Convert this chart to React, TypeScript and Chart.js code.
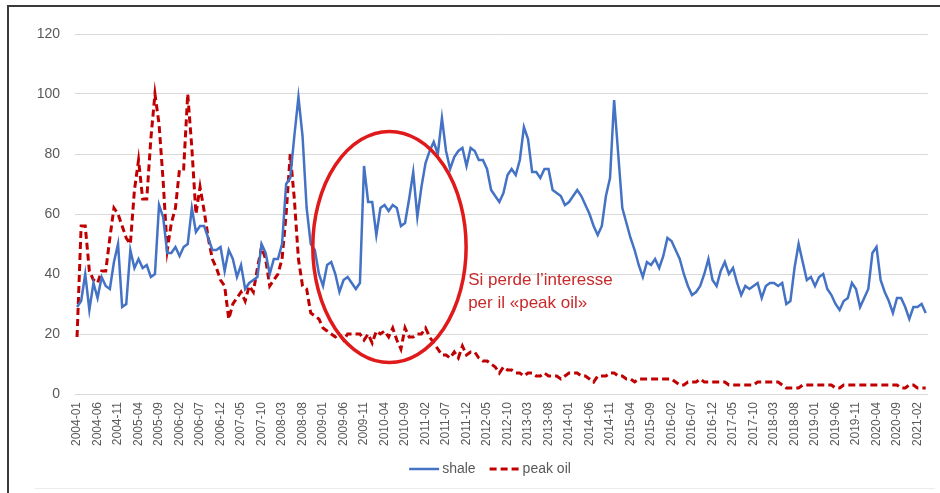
import React, { useEffect, useRef } from 'react';
import { Chart, registerables } from 'chart.js';

Chart.register(...registerables);

const START_YEAR = 2004;
const MONTH_COUNT = 208;
const months: string[] = [];
for (let i = 0; i < MONTH_COUNT; i++) {
  const yr = START_YEAR + Math.floor(i / 12);
  const mo = (i % 12) + 1;
  months.push(`${yr}-${String(mo).padStart(2, '0')}`);
}

const shale = [
  29, 31, 40, 28, 37, 32, 39, 36, 35, 44,
  50, 29, 30, 48, 42, 45, 42, 43, 39, 40,
  63, 59, 47, 47, 49, 46, 49, 50, 62, 54,
  56, 56, 52, 48, 48, 49, 41, 48, 45, 39,
  43, 35, 37, 38, 39, 50, 47, 40, 45, 45,
  50, 70, 72, 86, 99, 86, 62, 50, 48, 40,
  36, 43, 44, 40, 34, 38, 39, 37, 35, 37,
  76, 64, 64, 53, 62, 63, 61, 63, 62, 56,
  57, 65, 74, 59, 69, 77, 81, 84, 80, 92,
  81, 75, 79, 81, 82, 76, 82, 81, 78, 78,
  75, 68, 66, 64, 67, 73, 75, 73, 78, 89,
  85, 74, 74, 72, 75, 75, 68, 67, 66, 63,
  64, 66, 68, 66, 63, 60, 56, 53, 56, 66,
  72, 98, 80, 62, 57, 52, 48, 43, 39, 44,
  43, 45, 42, 46, 52, 51, 48, 45, 40, 36,
  33, 34, 36, 40, 45, 38, 36, 41, 44, 40,
  42, 37, 33, 36, 35, 36, 37, 32, 36, 37,
  37, 36, 37, 30, 31, 42, 50, 44, 38, 39,
  36, 39, 40, 35, 33, 30, 28, 31, 32, 37,
  35, 29, 32, 35, 47, 49, 38, 34, 31, 27,
  32, 32, 29, 25, 29, 29, 30, 27,
];

const peakOil = [
  19, 56, 56, 41, 38, 37, 41, 41, 52, 62,
  60, 56, 52, 50, 68, 78, 65, 65, 85, 100,
  90, 71, 48, 57, 62, 75, 75, 100, 82, 60,
  69, 61, 52, 45, 42, 38, 36, 25, 30, 32,
  34, 31, 36, 34, 42, 49, 45, 36, 38, 40,
  45, 60, 80, 65, 45, 36, 35, 27, 26, 25,
  22, 21, 20, 19, 20, 18, 20, 20, 20, 20,
  18, 20, 17, 21, 20, 21, 19, 22, 18, 15,
  22, 19, 19, 20, 20, 22, 19, 17, 15, 13,
  13, 12, 14, 12, 16, 13, 14, 14, 12, 11,
  11, 10, 9, 7, 9, 8, 8, 7, 7, 6,
  7, 7, 6, 6, 7, 6, 6, 6, 5, 6,
  7, 7, 7, 6, 6, 5, 4, 6, 6, 6,
  7, 7, 6, 6, 5, 5, 4, 5, 5, 5,
  5, 5, 5, 5, 5, 5, 4, 3, 3, 4,
  4, 4, 5, 4, 4, 4, 4, 4, 4, 3,
  3, 3, 3, 3, 3, 3, 4, 4, 4, 4,
  4, 4, 3, 2, 2, 2, 2, 3, 3, 3,
  3, 3, 3, 3, 3, 2, 2, 3, 3, 3,
  3, 3, 3, 3, 3, 3, 3, 3, 3, 3,
  3, 2, 2, 3, 3, 2, 2, 2,
];

const seriesNames = ['shale', 'peak oil'];
const noteLines = ['Si perde l\u2019interesse', 'per il \u00abpeak oil\u00bb'];
const Y_MIN = 0;
const Y_MAX = 120;
const Y_STEP = 20;
const LABEL_EVERY = 5;

const BLUE = '#4472C4';
const DARK_RED = '#C00000';
const FONT = '"Liberation Sans", Arial, sans-serif';

const overlay = {
  id: 'overlay',
  afterDatasetsDraw(chart: any) {
    const { ctx } = chart;
    const x = chart.scales.x;
    const y = chart.scales.y;
    ctx.save();
    const cx = x.getPixelForValue(76.2);
    const cy = y.getPixelForValue(49);
    const rx = x.getPixelForValue(76.2 + 18.7) - cx;
    const ry = y.getPixelForValue(49) - y.getPixelForValue(49 + 38.5);
    ctx.beginPath();
    ctx.ellipse(cx, cy, rx, ry, 0, 0, Math.PI * 2);
    ctx.strokeStyle = '#E01A1A';
    ctx.lineWidth = 3.5;
    ctx.stroke();

    ctx.fillStyle = '#C8292B';
    ctx.font = `17px ${FONT}`;
    ctx.textAlign = 'left';
    ctx.textBaseline = 'middle';
    const tx = x.getPixelForValue(95.4);
    ctx.fillText(noteLines[0], tx, y.getPixelForValue(38));
    ctx.fillText(noteLines[1], tx, y.getPixelForValue(30.3));
    ctx.restore();
  },
  afterDraw(chart: any) {
    const { ctx } = chart;
    ctx.save();
    // legend
    ctx.font = `14px ${FONT}`;
    ctx.textBaseline = 'middle';
    ctx.textAlign = 'left';
    const lineLen = 30;
    const gap = 3;
    const between = 14;
    const w0 = ctx.measureText(seriesNames[0]).width;
    const w1 = ctx.measureText(seriesNames[1]).width;
    const total = lineLen + gap + w0 + between + lineLen + gap + w1;
    let lx = 490 - total / 2;
    const ly = 469;
    ctx.strokeStyle = BLUE;
    ctx.lineWidth = 2.5;
    ctx.beginPath();
    ctx.moveTo(lx, ly);
    ctx.lineTo(lx + lineLen, ly);
    ctx.stroke();
    lx += lineLen + gap;
    ctx.fillStyle = '#595959';
    ctx.fillText(seriesNames[0], lx, ly);
    lx += w0 + between;
    ctx.strokeStyle = DARK_RED;
    ctx.lineWidth = 3;
    ctx.setLineDash([7, 4]);
    ctx.beginPath();
    ctx.moveTo(lx, ly);
    ctx.lineTo(lx + lineLen, ly);
    ctx.stroke();
    ctx.setLineDash([]);
    lx += lineLen + gap;
    ctx.fillText(seriesNames[1], lx, ly);

    // frame
    ctx.fillStyle = '#3a3a3a';
    ctx.fillRect(7, 5, 933, 2);
    ctx.fillRect(7, 5, 2, 488);
    ctx.fillStyle = '#ececec';
    ctx.fillRect(35, 488, 900, 1);
    ctx.restore();
  },
};

export default function App() {
  const ref = useRef<HTMLCanvasElement | null>(null);
  useEffect(() => {
    if (!ref.current) return;
    Chart.defaults.font.family = FONT;
    const chart = new Chart(ref.current, {
      type: 'line',
      data: {
        labels: months,
        datasets: [
          {
            label: seriesNames[0],
            data: shale,
            borderColor: BLUE,
            backgroundColor: BLUE,
            borderWidth: 2.5,
            pointRadius: 0,
            tension: 0,
            order: 1,
          },
          {
            label: seriesNames[1],
            data: peakOil,
            borderColor: DARK_RED,
            backgroundColor: DARK_RED,
            borderWidth: 3,
            borderDash: [7, 4],
            pointRadius: 0,
            tension: 0,
            order: 2,
          },
        ],
      },
      options: {
        responsive: false,
        animation: false,
        devicePixelRatio: 1,
        layout: { padding: { left: 0, top: 34, right: 8, bottom: 39 } },
        plugins: {
          legend: { display: false },
          tooltip: { enabled: false },
        },
        scales: {
          x: {
            type: 'category',
            offset: true,
            grid: { display: false, drawTicks: false },
            border: { display: false },
            ticks: {
              autoSkip: false,
              minRotation: 90,
              maxRotation: 90,
              padding: 8,
              color: '#595959',
              font: { size: 12 },
              callback: (_v: any, i: number) => (i % LABEL_EVERY === 0 ? months[i] : null),
            },
            afterFit: (s: any) => {
              s.height = 60;
            },
          },
          y: {
            min: Y_MIN,
            max: Y_MAX,
            grid: { color: '#d9d9d9', drawTicks: false, lineWidth: 1 },
            border: { display: false },
            ticks: {
              stepSize: Y_STEP,
              padding: 15,
              color: '#595959',
              font: { size: 14 },
            },
            afterFit: (s: any) => {
              s.width = 75;
            },
          },
        },
      },
      plugins: [overlay],
    } as any);
    return () => chart.destroy();
  }, []);
  return (
    <div style={{ position: 'fixed', left: 0, top: 0, width: 940, height: 493, background: '#fff' }}>
      <canvas ref={ref} width={940} height={493} style={{ width: 940, height: 493, display: 'block' }} />
    </div>
  );
}
